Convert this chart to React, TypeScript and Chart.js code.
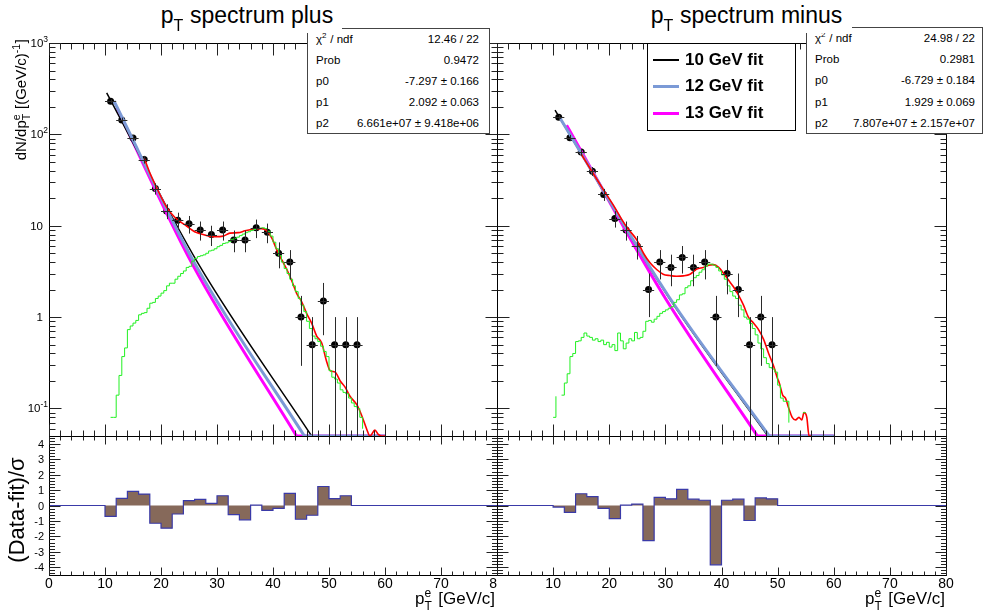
import React, { useEffect, useRef } from "react";
import { Chart, registerables } from "chart.js";

Chart.register(...registerables);

const W = 984;
const H = 614;
const FONT = '"Liberation Sans", Arial, Helvetica, sans-serif';

// ---------- axis ranges & tick labels ----------
const xMin = 0;
const xMax = 80;
const yLogMin = 0.05;
const yLogMax = 1000;
const yResMin = -4.5;
const yResMax = 4.5;
const xTickValues = [0, 10, 20, 30, 40, 50, 60, 70, 80];
const xTickLabels = ["0", "10", "20", "30", "40", "50", "60", "70", "80"];
const logTickValues = [1000, 100, 10, 1, 0.1];
const logTickBase = ["10", "10", "10", "1", "10"];
const logTickExp = ["3", "2", "", "", "-1"];
const resTickValues = [4, 3, 2, 1, 0, -1, -2, -3, -4];
const resTickLabels = ["4", "3", "2", "1", "0", "-1", "-2", "-3", "-4"];

// ---------- data points (bin centres, dN/dpT) ----------
const plusX = [11, 13, 15, 17, 19, 21, 23, 25, 27, 29, 31, 33, 35, 37, 39, 41, 43, 45, 47, 49, 51, 53, 55];
const plusY = [230, 144, 91, 53, 25.5, 14.5, 11.5, 10.5, 9, 8, 9, 7, 7, 9.5, 8.5, 5, 4, 1, 0.5, 1.5, 0.5, 0.5, 0.5];
const minusX = [11, 13, 15, 17, 19, 21, 23, 25, 27, 29, 31, 33, 35, 37, 39, 41, 43, 45, 47, 49];
const minusY = [154, 92, 64, 39.5, 22, 12, 9, 6, 2, 4, 3.5, 4.5, 3.5, 4, 1, 3, 2, 0.5, 1, 0.5];

// ---------- green template histogram (0.5 GeV bins starting at 10 GeV) ----------
const greenLow = 10;
const greenWidth = 0.5;
const greenPlus = [
  0.12, 0, 0.08, 0.08, 0.14, 0.23, 0.37, 0.46, 0.73, 0.8,
  0.86, 0.92, 1.06, 1.1, 1.12, 1.25, 1.42, 1.45, 1.6, 1.7,
  1.83, 1.95, 2.2, 2.35, 2.35, 2.6, 2.8, 3.0, 3.2, 3.5,
  3.6, 4.1, 4.4, 4.6, 4.7, 4.8, 5.0, 5.3, 5.4, 5.6,
  5.9, 6.1, 6.4, 6.5, 6.7, 7.1, 7.3, 7.5, 7.8, 8.1,
  8.4, 8.6, 8.9, 9.1, 9.3, 9.4, 9.5, 9.3, 8.7, 7.7,
  6.6, 5.6, 4.7, 4.0, 3.4, 3.0, 2.6, 2.2, 1.9, 1.6,
  1.35, 1.15, 0.9, 0.75, 0.62, 0.58, 0.54, 0.48, 0.42, 0.37,
  0.26, 0.22, 0.21, 0.19, 0.16, 0.15, 0.145, 0.13, 0.115, 0.105,
  0.1, 0.08, 0.06, 0, 0, 0, 0.055, 0, 0, 0,
  0, 0, 0, 0, 0.053, 0,
];
const greenMinus = [
  0.08, 0.136, 0, 0.14, 0.19, 0.24, 0.37, 0.4, 0.54, 0.55,
  0.6, 0.67, 0.62, 0.6, 0.56, 0.58, 0.54, 0.56, 0.5, 0.53,
  0.47, 0.5, 0.43, 0.67, 0.55, 0.45, 0.52, 0.58, 0.55, 0.68,
  0.58, 0.6, 0.7, 0.9, 0.92, 0.88, 0.95, 1.02, 1.1, 1.15,
  1.2, 1.25, 1.3, 1.45, 1.55, 1.75, 1.8, 2.1, 2.2, 2.5,
  2.7, 2.85, 3.1, 3.3, 3.6, 3.8, 3.8, 3.7, 3.5, 3.2,
  2.9, 2.6, 2.2, 1.9, 1.7, 1.6, 1.35, 1.2, 1.0, 0.95,
  0.85, 0.75, 0.64, 0.52, 0.45, 0.36, 0.31, 0.28, 0.27, 0.25,
  0.18, 0.13, 0.12, 0.12, 0.07, 0, 0.09, 0, 0, 0.09,
  0.09, 0,
];

// ---------- red total fit curve ----------
const redPlusX = [17, 18, 19.5, 21, 22.5, 24.3, 26, 27.9, 29.6, 31.1, 32.3, 33.8, 35, 36.8, 38, 38.9, 39.8, 40.7, 41.6, 42.5, 43.4, 44.2, 45.1, 46, 46.9, 47.8, 48.7, 49.5, 50.2, 51.1, 52, 52.9, 53.75, 54.96, 55.8, 56.75, 57.3, 58.2, 58.8, 59.4, 60];
const redPlusY = [55, 38, 24, 16, 12.3, 10.2, 8.6, 7.9, 7.6, 7.7, 8.3, 8.4, 8.8, 9.2, 9.3, 8.8, 7.3, 5.4, 4.2, 3.3, 2.45, 1.83, 1.48, 1.1, 0.86, 0.62, 0.52, 0.34, 0.26, 0.25, 0.2, 0.17, 0.136, 0.11, 0.085, 0.059, 0.05, 0.058, 0.052, 0.05, 0.05];
const redMinusX = [15, 17, 19, 21, 22.3, 23.2, 24.9, 26.1, 27.3, 28.5, 29.6, 30.8, 32, 33.2, 34.4, 35.6, 36.8, 37.7, 38.6, 39.5, 40.4, 41.2, 42.1, 43, 43.9, 44.8, 45.7, 46.6, 47.5, 48.4, 49.3, 49.9, 50.3, 50.9, 51.4, 52, 52.6, 53.2, 53.8, 54.3, 54.7, 55.2, 55.6, 56];
const redMinusY = [61, 38.5, 24.5, 15.8, 11.5, 9.5, 7.0, 5.0, 3.9, 3.3, 2.95, 2.85, 2.8, 2.83, 2.95, 3.35, 3.5, 3.7, 3.75, 3.5, 3.0, 2.56, 2.16, 1.75, 1.36, 1.0, 0.86, 0.73, 0.57, 0.4, 0.29, 0.22, 0.19, 0.14, 0.13, 0.1, 0.08, 0.075, 0.08, 0.075, 0.09, 0.08, 0.05, 0.05];

// ---------- background fits (10, 12, 13 GeV lower edge), drawn to 60 GeV ----------
const fitRangeMax = 60;
const fit10PlusX = [10.3, 26.6, 46.9];
const fit10PlusY = [285, 3.9, 0.05];
const fit12PlusX = [11.6, 26.0, 45.6];
const fit12PlusY = [232, 3.9, 0.05];
const fit13PlusX = [12.1, 25.5, 44.2];
const fit13PlusY = [195, 3.9, 0.05];
const fit10MinusX = [10.34, 30.5, 48.25];
const fit10MinusY = [184, 1.68, 0.05];
const fit12MinusX = [11.3, 30.6, 48.5];
const fit12MinusY = [148, 1.68, 0.05];
const fit13MinusX = [12.4, 29.8, 46.4];
const fit13MinusY = [126, 1.68, 0.05];

// ---------- residuals (Data-fit)/sigma, 2 GeV bins from 0 to 80 ----------
const resLow = 0;
const resWidth = 2;
const residPlus = [
  0, 0, 0, 0, 0,
  -0.7, 0.46, 0.91, 0.74, -1.15, -1.47, -0.55, 0.31, 0.4, 0.14,
  0.63, -0.59, -0.93, 0.02, -0.31, -0.18, 0.78, -0.89, -0.63, 1.23,
  0.44, 0.63,
  0, 0, 0, 0, 0, 0, 0, 0, 0, 0, 0, 0, 0,
];
const residMinus = [
  0, 0, 0, 0, 0,
  -0.1, -0.44, 0.76, 0.57, -0.18, -0.85, 0.02, 0.09, -2.28, 0.53,
  0.43, 1.05, 0.41, 0.34, -3.84, 0.34, 0.41, -0.97, 0.49, 0.43,
  0, 0, 0, 0, 0, 0, 0, 0, 0, 0, 0, 0, 0, 0, 0,
];

// ---------- stats box texts ----------
const statsPlus = ["12.46 / 22", "0.9472", "-7.297 \u00b1 0.166", "2.092 \u00b1 0.063", "6.661e+07 \u00b1 9.418e+06"];
const statsMinus = ["24.98 / 22", "0.2981", "-6.729 \u00b1 0.184", "1.929 \u00b1 0.069", "7.807e+07 \u00b1 2.157e+07"];
const legendLabels = ["10 GeV fit", "12 GeV fit", "13 GeV fit"];

// ---------- colours ----------
const C_GREEN = "#22f022";
const C_RED = "#ff0000";
const C_BLUE = "#7b9ad6";
const C_MAGENTA = "#ff00ff";
const C_BLACK = "#000000";
const C_FILL = "#86695a";
const C_RESLINE = "#3a3aa8";

type Pt = { x: number; y: number };

function pts(xs: number[], ys: number[]): Pt[] {
  return xs.map((x, i) => ({ x, y: ys[i] }));
}

function histPts(low: number, width: number, vals: number[]): Pt[] {
  const out: Pt[] = [{ x: low, y: 0 }];
  vals.forEach((v, i) => out.push({ x: low + i * width, y: v }));
  out.push({ x: low + vals.length * width, y: 0 });
  return out;
}

function lineDs(data: Pt[], color: string, width: number, extra: any = {}) {
  return {
    type: "line",
    data,
    borderColor: color,
    backgroundColor: color,
    borderWidth: width,
    pointRadius: 0,
    pointHoverRadius: 0,
    pointHitRadius: 0,
    fill: false,
    tension: 0,
    ...extra,
  };
}

// fit curve + its clipped tail running along the bottom of the frame up to the fit range end
function fitDs(xs: number[], ys: number[], color: string, width: number) {
  return [
    lineDs(pts(xs, ys), color, width, { cubicInterpolationMode: "monotone" }),
    lineDs([{ x: xs[xs.length - 1], y: yLogMin }, { x: fitRangeMax, y: yLogMin }], color, width),
  ];
}

type PadCfg = {
  kind: "top" | "bottom";
  logLabels?: boolean;
  resLabels?: boolean;
  xLabels?: boolean;
  skipZeroLabel?: boolean;
  whiteFrom?: number;
  errX?: number[];
  errY?: number[];
};

function rootPadPlugin(cfg: PadCfg) {
  return {
    id: "rootPad",
    beforeDraw(chart: any) {
      if (cfg.whiteFrom === undefined) return;
      const ctx = chart.ctx;
      ctx.save();
      ctx.fillStyle = "#ffffff";
      ctx.fillRect(cfg.whiteFrom, 0, W - cfg.whiteFrom, H);
      ctx.restore();
    },
    afterDatasetsDraw(chart: any) {
      if (!cfg.errX || !cfg.errY) return;
      const { ctx, chartArea: a } = chart;
      const xs = chart.scales.x;
      const ys = chart.scales.y;
      ctx.save();
      ctx.beginPath();
      ctx.rect(a.left, a.top, a.right - a.left, a.bottom - a.top);
      ctx.clip();
      ctx.strokeStyle = "#2a2a2a";
      ctx.lineWidth = 1;
      cfg.errX.forEach((x, i) => {
        const y = cfg.errY![i];
        const e = Math.sqrt(2 * y) / 2;
        const px = Math.round(xs.getPixelForValue(x)) + 0.5;
        const py = Math.round(ys.getPixelForValue(y)) + 0.5;
        const x0 = xs.getPixelForValue(x - 1);
        const x1 = xs.getPixelForValue(x + 1);
        const yTop = ys.getPixelForValue(y + e);
        const lo = y - e;
        const yBot = lo > 0.0001 ? ys.getPixelForValue(lo) : a.bottom + 2;
        ctx.beginPath();
        ctx.moveTo(x0, py);
        ctx.lineTo(x1, py);
        ctx.moveTo(px, yTop);
        ctx.lineTo(px, yBot);
        ctx.stroke();
      });
      ctx.restore();
    },
    afterDraw(chart: any) {
      const { ctx, chartArea: a } = chart;
      const xs = chart.scales.x;
      const ys = chart.scales.y;
      const isTop = cfg.kind === "top";
      ctx.save();
      ctx.strokeStyle = "#000";
      ctx.lineWidth = 1;
      ctx.strokeRect(a.left + 0.5, a.top + 0.5, a.right - a.left, a.bottom - a.top);

      const xMaj = isTop ? 12 : 8;
      const xMinL = isTop ? 6 : 4;
      const yMaj = isTop ? 12 : 11;
      const yMinL = isTop ? 6 : 5.5;
      ctx.strokeStyle = "#222";
      ctx.beginPath();
      for (let v = xMin; v <= xMax; v += 2) {
        const L = v % 10 === 0 ? xMaj : xMinL;
        const px = Math.round(xs.getPixelForValue(v)) + 0.5;
        ctx.moveTo(px, a.bottom + 0.5);
        ctx.lineTo(px, a.bottom + 0.5 - L);
        ctx.moveTo(px, a.top + 0.5);
        ctx.lineTo(px, a.top + 0.5 + L);
      }
      const yTicks: { v: number; L: number }[] = [];
      if (isTop) {
        logTickValues.forEach((v) => yTicks.push({ v, L: yMaj }));
        for (let d = -2; d <= 2; d++) {
          for (let m = 2; m <= 9; m++) {
            const v = m * Math.pow(10, d);
            if (v > yLogMin * 1.001 && v < yLogMax) yTicks.push({ v, L: yMinL });
          }
        }
      } else {
        resTickValues.forEach((v) => yTicks.push({ v, L: yMaj }));
        for (let k = -22; k <= 22; k++) {
          if (k % 5 !== 0) yTicks.push({ v: k * 0.2, L: yMinL });
        }
      }
      yTicks.forEach(({ v, L }) => {
        const py = Math.round(ys.getPixelForValue(v)) + 0.5;
        ctx.moveTo(a.left + 0.5, py);
        ctx.lineTo(a.left + 0.5 + L, py);
        ctx.moveTo(a.right + 0.5, py);
        ctx.lineTo(a.right + 0.5 - L, py);
      });
      ctx.stroke();

      ctx.fillStyle = "#000";
      ctx.textBaseline = "alphabetic";
      if (cfg.logLabels) {
        logTickValues.forEach((v, i) => {
          const py = ys.getPixelForValue(v);
          const base = logTickBase[i];
          const exp = logTickExp[i];
          ctx.font = `11.5px ${FONT}`;
          if (exp) {
            const wb = ctx.measureText(base).width;
            ctx.font = `8.5px ${FONT}`;
            const we = ctx.measureText(exp).width;
            const bx = a.left - 1 - wb - we;
            ctx.textAlign = "left";
            ctx.font = `11.5px ${FONT}`;
            ctx.fillText(base, bx, py + 4);
            ctx.font = `8.5px ${FONT}`;
            ctx.fillText(exp, bx + wb, py - 1.5);
          } else {
            ctx.textAlign = "right";
            ctx.fillText(base, a.left - 6, py + 4);
          }
        });
      }
      if (cfg.resLabels) {
        ctx.font = `11px ${FONT}`;
        ctx.textAlign = "right";
        resTickValues.forEach((v, i) => {
          const py = ys.getPixelForValue(v);
          ctx.fillText(resTickLabels[i], a.left - 5, py + 4);
        });
      }
      if (cfg.xLabels) {
        ctx.font = `14px ${FONT}`;
        ctx.textAlign = "center";
        xTickValues.forEach((v, i) => {
          if (cfg.skipZeroLabel && v === 0) return;
          const px = xs.getPixelForValue(v);
          ctx.fillText(xTickLabels[i], px, a.bottom + 13);
        });
      }
      ctx.restore();
    },
  };
}

const PAD_LEFT = { l: 49, r: 497 };
const PAD_RIGHT = { l: 497, r: 946 };
const TOP_Y = { t: 43, b: 436 };
const BOT_Y = { t: 436, b: 575 };

function baseOptions(pad: { l: number; r: number }, vy: { t: number; b: number }, yScale: any) {
  return {
    animation: false,
    responsive: false,
    maintainAspectRatio: false,
    events: [],
    layout: { padding: { left: pad.l, right: W - pad.r, top: vy.t, bottom: H - vy.b } },
    scales: {
      x: { type: "linear", min: xMin, max: xMax, display: false },
      y: { display: false, ...yScale },
    },
    plugins: { legend: { display: false }, tooltip: { enabled: false }, title: { display: false } },
  };
}

function topConfig(side: "plus" | "minus") {
  const p = side === "plus";
  return {
    type: "line",
    data: {
      datasets: [
        lineDs(histPts(greenLow, greenWidth, p ? greenPlus : greenMinus), C_GREEN, 1, { stepped: "before" }),
        lineDs(pts(p ? redPlusX : redMinusX, p ? redPlusY : redMinusY), C_RED, 1.6, { cubicInterpolationMode: "monotone" }),
        ...fitDs(p ? fit12PlusX : fit12MinusX, p ? fit12PlusY : fit12MinusY, C_BLUE, 3),
        ...fitDs(p ? fit10PlusX : fit10MinusX, p ? fit10PlusY : fit10MinusY, C_BLACK, 1.5),
        ...fitDs(p ? fit13PlusX : fit13MinusX, p ? fit13PlusY : fit13MinusY, C_MAGENTA, 3),
        {
          type: "line",
          data: pts(p ? plusX : minusX, p ? plusY : minusY),
          showLine: false,
          pointRadius: 3.5,
          pointHoverRadius: 0,
          pointBackgroundColor: "#000",
          pointBorderColor: "#000",
          pointBorderWidth: 0,
        },
      ],
    },
    options: baseOptions(p ? PAD_LEFT : PAD_RIGHT, TOP_Y, { type: "logarithmic", min: yLogMin, max: yLogMax }),
    plugins: [
      rootPadPlugin({
        kind: "top",
        logLabels: p,
        whiteFrom: p ? undefined : PAD_RIGHT.l,
        errX: p ? plusX : minusX,
        errY: p ? plusY : minusY,
      }),
    ],
  };
}

function bottomConfig(side: "plus" | "minus") {
  const p = side === "plus";
  return {
    type: "line",
    data: {
      datasets: [
        lineDs(histPts(resLow, resWidth, p ? residPlus : residMinus), C_RESLINE, 1.2, {
          stepped: "before",
          fill: "origin",
          backgroundColor: C_FILL,
        }),
      ],
    },
    options: baseOptions(p ? PAD_LEFT : PAD_RIGHT, BOT_Y, { type: "linear", min: yResMin, max: yResMax }),
    plugins: [rootPadPlugin({ kind: "bottom", resLabels: p, xLabels: true, skipZeroLabel: !p })],
  };
}

function PadChart({ config }: { config: any }) {
  const ref = useRef<HTMLCanvasElement>(null);
  useEffect(() => {
    const chart = new Chart(ref.current as HTMLCanvasElement, config);
    return () => chart.destroy();
  }, []);
  return (
    <canvas
      ref={ref}
      width={W}
      height={H}
      style={{ position: "absolute", left: 0, top: 0, width: W, height: H }}
    />
  );
}

function SubSup({ sup, sub, size, rise = 0, drop = 0, width }: { sup?: string; sub?: string; size: number; rise?: number; drop?: number; width: number }) {
  const k = 0.153 * size;
  return (
    <span style={{ display: "inline-block", position: "relative", width, height: 0 }}>
      {sup && (
        <span style={{ position: "absolute", left: 0, bottom: rise - k, fontSize: size, lineHeight: `${size}px`, whiteSpace: "nowrap" }}>{sup}</span>
      )}
      {sub && (
        <span style={{ position: "absolute", left: 0, bottom: -drop - k, fontSize: size, lineHeight: `${size}px`, whiteSpace: "nowrap" }}>{sub}</span>
      )}
    </span>
  );
}

function Title({ left, width, text }: { left: number; width: number; text: string }) {
  return (
    <div
      style={{
        position: "absolute", left, top: 0, width, height: 33, background: "#fff",
        font: `23px ${FONT}`, lineHeight: "23px", paddingTop: 3.5, boxSizing: "border-box",
        textAlign: "center", whiteSpace: "nowrap", color: "#000",
      }}
    >
      p<SubSup sub="T" size={16} drop={9} width={10} /> {text}
    </div>
  );
}

function StatsBox({ left, top, width, height, values, padR }: { left: number; top: number; width: number; height: number; values: string[]; padR: number }) {
  const labels: React.ReactNode[] = [
    <span key="c">{"\u03c7"}<SubSup sup="2" size={8} rise={4} width={5} /> / ndf</span>,
    "Prob",
    "p0",
    "p1",
    "p2",
  ];
  const rowH = (height - 1) / 5;
  return (
    <div
      style={{
        position: "absolute", left, top, width, height, background: "#fff", border: "1px solid #444",
        boxSizing: "border-box", font: `11.5px ${FONT}`, color: "#000",
      }}
    >
      {labels.map((lab, i) => (
        <div key={i} style={{ position: "absolute", left: 8, right: padR, top: i * rowH, height: rowH, lineHeight: `${rowH}px`, display: "flex", justifyContent: "space-between", whiteSpace: "nowrap" }}>
          <span>{lab}</span>
          <span>{values[i]}</span>
        </div>
      ))}
    </div>
  );
}

function Legend() {
  const colors = [C_BLACK, C_BLUE, C_MAGENTA];
  const widths = [2, 3, 3];
  return (
    <div
      style={{
        position: "absolute", left: 647, top: 43, width: 149, height: 88, background: "#fff",
        border: "1px solid #000", boxSizing: "border-box", font: `bold 17px ${FONT}`, color: "#000",
      }}
    >
      {legendLabels.map((lab, i) => (
        <div key={i} style={{ position: "absolute", left: 0, top: 2.5 + i * 26.7, height: 26.7, width: "100%" }}>
          <div style={{ position: "absolute", left: 5, top: 13.35 - widths[i] / 2, width: 26, height: widths[i], background: colors[i] }} />
          <div style={{ position: "absolute", left: 37, top: 0, lineHeight: "26.7px", whiteSpace: "nowrap" }}>{lab}</div>
        </div>
      ))}
    </div>
  );
}

function XTitle({ right }: { right: number }) {
  return (
    <div
      style={{
        position: "absolute", right: W - right, top: 589.6, font: `17px ${FONT}`, lineHeight: "17px",
        whiteSpace: "nowrap", color: "#000",
      }}
    >
      p<SubSup sup="e" sub="T" size={12} rise={6} drop={7} width={9} /> [GeV/c]
    </div>
  );
}

export default function App() {
  return (
    <div style={{ position: "absolute", left: 0, top: 0, width: W, height: H, background: "#fff", overflow: "hidden" }}>
      <PadChart config={topConfig("plus")} />
      <PadChart config={bottomConfig("plus")} />
      <PadChart config={topConfig("minus")} />
      <PadChart config={bottomConfig("minus")} />

      <StatsBox left={307} top={28} width={183} height={106} values={statsPlus} padR={10} />
      <StatsBox left={806} top={27} width={177} height={107} values={statsMinus} padR={7} />
      <Legend />
      <Title left={152} width={190} text="spectrum plus" />
      <Title left={641} width={211} text="spectrum minus" />

      {/* y-axis title, top pad */}
      <div
        style={{
          position: "absolute", left: 13, top: 239, width: 200, font: `15px ${FONT}`, lineHeight: "15px",
          textAlign: "right", whiteSpace: "nowrap", transformOrigin: "0 0", transform: "rotate(-90deg)", color: "#000",
        }}
      >
        dN/dp<SubSup sup="e" sub="T" size={10.5} rise={6} drop={4} width={7} /> [(GeV/c)<SubSup sup="-1" size={10.5} rise={6} width={10} />]
      </div>
      {/* y-axis title, bottom pad */}
      <div
        style={{
          position: "absolute", left: 17 - 100, top: 510 - 11, width: 200, height: 22, font: `22px ${FONT}`,
          lineHeight: "22px", textAlign: "center", whiteSpace: "nowrap", transform: "rotate(-90deg)", color: "#000",
        }}
      >
        (Data-fit)/{"\u03c3"}
      </div>
      <XTitle right={495} />
      <XTitle right={945} />
    </div>
  );
}
